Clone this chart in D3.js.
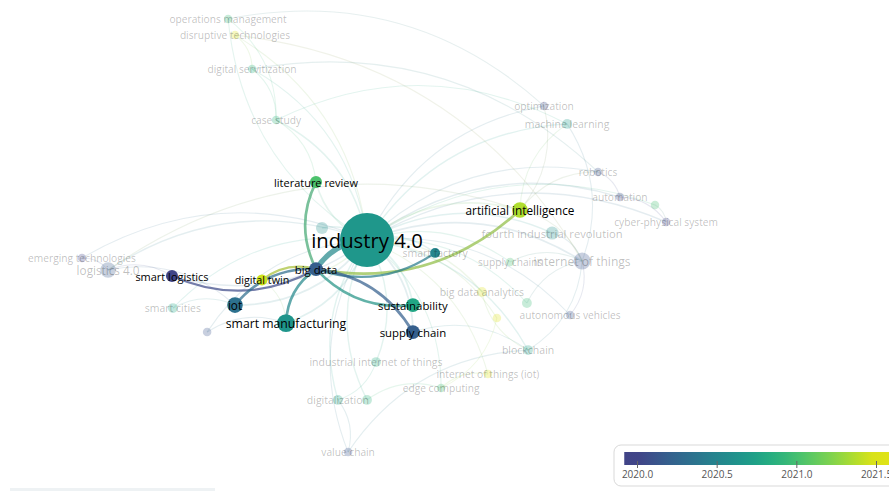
<!DOCTYPE html>
<html><head><meta charset="utf-8">
<script src="https://cdn.jsdelivr.net/npm/d3@7"></script>
<style>
html,body{margin:0;padding:0;background:#fff;overflow:hidden}
svg{display:block}
text{font-family:"Open Sans",sans-serif}
</style>
</head><body>
<svg id="c" width="889" height="491"></svg>
<script>
// ---------- DATA ----------
const keywords = [
  "industry 4.0","big data","literature review","artificial intelligence","smart factory",
  "smart logistics","digital twin","iot","smart manufacturing","sustainability","supply chain",
  "operations management","disruptive technologies","digital servitization","case study",
  "optimization","machine learning","robotics","automation","simulation","cyber-physical system",
  "fourth industrial revolution","internet of things","supply chains","big data analytics",
  "cloud computing","5g","autonomous vehicles","blockchain","internet of things (iot)",
  "edge computing","industrial internet of things","digitalization","digital transformation",
  "value chain","emerging technologies","logistics 4.0","smart cities","additive manufacturing",
  "smart production"
];
// map coordinates (VOSviewer-like layout units)
const mapX = [0,-0.17,-0.17,0.51,0.227,-0.65,-0.35,-0.44,-0.27,0.153,0.153,
  -0.463,-0.44,-0.383,-0.303,0.59,0.667,0.77,0.843,0.96,0.997,
  0.617,0.717,0.477,0.383,0.533,0.433,0.677,0.537,0.403,
  0.247,0.03,-0.097,0,-0.063,-0.95,-0.863,-0.647,-0.533,-0.15];
const mapY = [0,-0.097,0.193,0.1,-0.043,-0.12,-0.133,-0.217,-0.277,-0.217,-0.307,
  0.737,0.683,0.57,0.4,0.447,0.387,0.227,0.143,0.117,0.06,
  0.023,-0.07,-0.073,-0.173,-0.21,-0.26,-0.25,-0.367,-0.447,
  -0.493,-0.407,-0.533,-0.533,-0.707,-0.06,-0.1,-0.227,-0.307,0.04];
const occurrences = [120,8,6,10,4,6,5,10,13,8,8,
  3,3,3,3,3,4,3,3,3,3,
  7,12,3,4,4,3,3,4,3,
  3,4,4,4,3,3,10,4,3,6];
const avgYear = [2020.66,2020.2,2021.03,2021.36,2020.52,2019.95,2021.45,2020.34,2020.64,2020.78,2020.2,
  2020.95,2021.5,2020.9,2020.9,2020.05,2020.7,2020.1,2020.05,2021.0,2020.0,
  2020.6,2020.1,2021.0,2021.5,2020.95,2021.55,2020.1,2020.75,2021.5,
  2021.0,2020.85,2020.8,2020.9,2020.1,2020.0,2020.15,2020.8,2020.1,2020.6];
const unlabeled = ["simulation","cloud computing","5g","digital transformation","additive manufacturing","smart production"];
const focusKeyword = "big data";
const links = [
  ["big data","industry 4.0",10],["big data","literature review",4],["artificial intelligence","big data",4],
  ["smart factory","big data",3],["big data","smart logistics",3],["digital twin","big data",3],
  ["iot","big data",4],["smart manufacturing","big data",4],["sustainability","big data",4],
  ["big data","supply chain",4],
  ["industry 4.0","operations management",1],["case study","industry 4.0",2],["digital servitization","industry 4.0",1],
  ["disruptive technologies","industry 4.0",1],["industry 4.0","optimization",1],["industry 4.0","machine learning",2],
  ["industry 4.0","robotics",1],["industry 4.0","automation",2],["industry 4.0","cyber-physical system",2],
  ["industry 4.0","fourth industrial revolution",2],["industry 4.0","internet of things",3],["industry 4.0","simulation",1],
  ["industry 4.0","supply chains",1],["industry 4.0","big data analytics",2],["industry 4.0","cloud computing",1],
  ["industry 4.0","5g",1],["industry 4.0","autonomous vehicles",1],["industry 4.0","blockchain",2],
  ["industry 4.0","internet of things (iot)",1],["industry 4.0","edge computing",1],["industry 4.0","industrial internet of things",2],
  ["digitalization","industry 4.0",2],["digital transformation","industry 4.0",2],["value chain","industry 4.0",1],
  ["emerging technologies","industry 4.0",1],["logistics 4.0","industry 4.0",2],["smart cities","industry 4.0",1],
  ["additive manufacturing","industry 4.0",1],["smart production","industry 4.0",2],
  ["industry 4.0","literature review",3],["industry 4.0","artificial intelligence",3],["industry 4.0","iot",3],
  ["industry 4.0","smart manufacturing",3],["industry 4.0","sustainability",3],["industry 4.0","supply chain",3],
  ["industry 4.0","smart logistics",2],["industry 4.0","digital twin",2],["industry 4.0","smart factory",2],
  ["operations management","case study",1],["disruptive technologies","digital servitization",1],
  ["digital servitization","case study",1],["case study","literature review",1],["machine learning","internet of things",1],
  ["optimization","artificial intelligence",1],["robotics","automation",1],["automation","cyber-physical system",1],
  ["internet of things","blockchain",1],["internet of things","autonomous vehicles",1],["blockchain","big data analytics",1],
  ["digitalization","value chain",1],["industrial internet of things","digitalization",1],
  ["emerging technologies","logistics 4.0",1],["logistics 4.0","smart logistics",1],["smart cities","iot",1],
  ["artificial intelligence","machine learning",1],["artificial intelligence","internet of things",1],
  ["artificial intelligence","robotics",1],["digital twin","smart manufacturing",1],
  ["edge computing","internet of things (iot)",1],["supply chain","blockchain",1],["cloud computing","internet of things",1],
  ["5g","edge computing",1],["simulation","cyber-physical system",1],["additive manufacturing","smart manufacturing",1],
  ["fourth industrial revolution","internet of things",1],["digital transformation","edge computing",1],
  ["supply chains","internet of things",1],["logistics 4.0","iot",1],["case study","machine learning",1],
  ["digital servitization","robotics",1],["logistics 4.0","artificial intelligence",1],["value chain","blockchain",1],
  ["disruptive technologies","internet of things",1],["operations management","optimization",1]
];
const yearTicks = [2020.0, 2020.5, 2021.0, 2021.5];
const barYears = [2019.92, 2021.75];

// ---------- SCALES ----------
const W = 889, H = 491;
const x = d3.scaleLinear().domain([-1, 1]).range([67, 667]);
const y = d3.scaleLinear().domain([-1, 1]).range([540, -60]);
const rScale = d3.scaleSqrt().domain([0, 120]).range([0, 27]);
const fontScale = d3.scalePow().exponent(0.5).domain([0, 120]).range([8.3, 20.3]);
const tScale = d3.scaleLinear().domain([2020, 2021.5]).range([0.2, 0.95]).clamp(true);
const color = yr => d3.interpolateViridis(tScale(yr));
const widthScale = d3.scaleLinear().domain([1, 10]).range([1.2, 4.6]);

const svg = d3.select("#c");
svg.append("rect").attr("width", W).attr("height", H).attr("fill", "#fff");

const nodes = keywords.map((k, i) => ({
  id: k, x: x(mapX[i]), y: y(mapY[i]), w: occurrences[i], yr: avgYear[i],
  showLabel: !unlabeled.includes(k)
}));
const byId = new Map(nodes.map(n => [n.id, n]));
const hl = new Set([focusKeyword]);
links.forEach(([a, b]) => { if (a === focusKeyword) hl.add(b); if (b === focusKeyword) hl.add(a); });
const isHL = l => l[0] === focusKeyword || l[1] === focusKeyword;

function curve(a, b) {
  const dx = b.x - a.x, dy = b.y - a.y, k = 0.25;
  const cx = (a.x + b.x) / 2 + dy * k, cy = (a.y + b.y) / 2 - dx * k;
  return `M${a.x},${a.y}Q${cx},${cy} ${b.x},${b.y}`;
}

// ---------- FADED LAYER ----------
const gF = svg.append("g");
gF.selectAll("path").data(links.filter(l => !isHL(l))).join("path")
  .attr("d", l => curve(byId.get(l[0]), byId.get(l[1])))
  .attr("fill", "none")
  .attr("stroke", l => d3.interpolateRgb(color(byId.get(l[0]).yr), color(byId.get(l[1]).yr))(0.5))
  .attr("stroke-opacity", 0.13)
  .attr("stroke-width", l => widthScale(l[2]) * 0.9);

const fadedNodes = nodes.filter(n => !hl.has(n.id));
gF.selectAll("circle").data(fadedNodes).join("circle")
  .attr("cx", d => d.x).attr("cy", d => d.y).attr("r", d => rScale(d.w))
  .attr("fill", d => color(d.yr)).attr("fill-opacity", 0.28);
gF.selectAll("text").data(fadedNodes.filter(d => d.showLabel)).join("text")
  .attr("x", d => d.x).attr("y", d => d.y)
  .attr("text-anchor", "middle").attr("dominant-baseline", "central")
  .attr("font-size", d => fontScale(d.w)).attr("fill", "#000").attr("fill-opacity", 0.26)
  .text(d => d.id);

// ---------- HIGHLIGHTED LAYER ----------
const gH = svg.append("g");
const hlLinks = links.filter(isHL);
gH.selectAll("path").data(hlLinks).join("path")
  .attr("d", l => curve(byId.get(l[0]), byId.get(l[1])))
  .attr("fill", "none")
  .attr("stroke", l => {
    const other = l[0] === focusKeyword ? l[1] : l[0];
    return d3.interpolateRgb(color(byId.get(other).yr), color(byId.get(focusKeyword).yr))(0.25);
  })
  .attr("stroke-opacity", 0.72)
  .attr("stroke-linecap", "round")
  .attr("stroke-width", l => widthScale(l[2]) * 1.15);

const hlNodes = nodes.filter(n => hl.has(n.id)).sort((a, b) => b.w - a.w);
gH.selectAll("circle").data(hlNodes).join("circle")
  .attr("cx", d => d.x).attr("cy", d => d.y).attr("r", d => rScale(d.w))
  .attr("fill", d => color(d.yr));
gH.selectAll("text").data(hlNodes.filter(d => d.showLabel)).join("text")
  .attr("x", d => d.x).attr("y", d => d.y)
  .attr("text-anchor", "middle").attr("dominant-baseline", "central")
  .attr("font-size", d => fontScale(d.w))
  .attr("fill", "#000")
  .attr("fill-opacity", d => d.id === "smart factory" ? 0.26 : 1)
  .text(d => d.id);

// ---------- COLOR BAR ----------
const bx = d3.scaleLinear().domain([2020, 2021.5]).range([637, 876]);
const defs = svg.append("defs");
const grad = defs.append("linearGradient").attr("id", "vg")
  .attr("gradientUnits", "userSpaceOnUse")
  .attr("x1", bx(barYears[0])).attr("x2", bx(barYears[1])).attr("y1", 0).attr("y2", 0);
d3.range(0, 1.0001, 0.05).forEach(f => {
  const yr = barYears[0] + f * (barYears[1] - barYears[0]);
  grad.append("stop").attr("offset", f).attr("stop-color", color(yr));
});
const leg = svg.append("g");
leg.append("rect").attr("x", 614).attr("y", 445).attr("width", 320).attr("height", 41)
  .attr("rx", 7).attr("fill", "#fff").attr("stroke", "#d9d9d9").attr("stroke-width", 1);
leg.append("rect").attr("x", bx(barYears[0])).attr("y", 452)
  .attr("width", bx(barYears[1]) - bx(barYears[0])).attr("height", 13).attr("fill", "url(#vg)");
const axis = d3.axisBottom(bx).tickValues(yearTicks).tickFormat(d3.format(".1f")).tickSize(7).tickPadding(3);
const ax = leg.append("g").attr("transform", "translate(0,461)").call(axis);
ax.select(".domain").remove();
ax.selectAll(".tick line").attr("stroke", "#666");
ax.selectAll(".tick text").attr("fill", "#555").attr("font-size", 10).attr("font-family", "Open Sans, sans-serif");

// faint bottom-left bar
svg.append("rect").attr("x", 10).attr("y", 488).attr("width", 205).attr("height", 3).attr("fill", "#eef2f4");
</script>
</body></html>
